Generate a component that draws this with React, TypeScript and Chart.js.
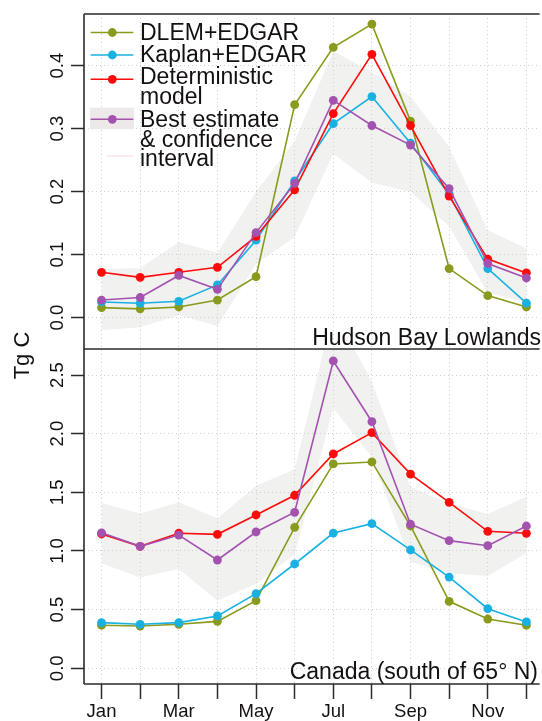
import React, { useEffect, useRef } from 'react';
import { Chart, registerables } from 'chart.js';

Chart.register(...registerables);

// ---------- data ----------
const months = ['Jan', 'Feb', 'Mar', 'Apr', 'May', 'Jun', 'Jul', 'Aug', 'Sep', 'Oct', 'Nov', 'Dec'];
const monthTickLabels = ['Jan', '', 'Mar', '', 'May', '', 'Jul', '', 'Sep', '', 'Nov', ''];

const hblTicks = [0, 0.1, 0.2, 0.3, 0.4];
const canTicks = [0, 0.5, 1.0, 1.5, 2.0, 2.5];

// Hudson Bay Lowlands (Tg C)
const hblDLEM = [0.016, 0.014, 0.017, 0.028, 0.065, 0.338, 0.429, 0.466, 0.312, 0.078, 0.035, 0.017];
const hblKaplan = [0.025, 0.023, 0.026, 0.052, 0.123, 0.217, 0.308, 0.351, 0.277, 0.196, 0.078, 0.023];
const hblDeterministic = [0.072, 0.064, 0.072, 0.080, 0.129, 0.203, 0.324, 0.418, 0.305, 0.193, 0.093, 0.071];
const hblBest = [0.028, 0.032, 0.067, 0.045, 0.135, 0.213, 0.345, 0.305, 0.274, 0.205, 0.086, 0.063];
const hblUpper = [0.077, 0.079, 0.120, 0.103, 0.200, 0.280, 0.423, 0.390, 0.351, 0.271, 0.139, 0.110];
const hblLower = [-0.020, -0.015, 0.004, -0.013, 0.085, 0.128, 0.260, 0.214, 0.200, 0.145, 0.039, 0.025];

// Canada south of 65 N (Tg C)
const canDLEM = [0.367, 0.360, 0.375, 0.400, 0.576, 1.202, 1.742, 1.759, 1.213, 0.571, 0.420, 0.367];
const canKaplan = [0.389, 0.375, 0.389, 0.446, 0.636, 0.889, 1.153, 1.233, 1.009, 0.778, 0.508, 0.395];
const canDeterministic = [1.145, 1.040, 1.151, 1.142, 1.307, 1.475, 1.827, 2.009, 1.656, 1.415, 1.168, 1.151];
const canBest = [1.155, 1.040, 1.136, 0.923, 1.162, 1.330, 2.620, 2.102, 1.228, 1.088, 1.045, 1.213];
const canUpper = [1.410, 1.320, 1.415, 1.280, 1.557, 1.696, 3.050, 2.443, 1.548, 1.407, 1.315, 1.463];
const canLower = [0.895, 0.773, 0.846, 0.576, 0.720, 0.970, 2.216, 1.800, 0.909, 0.810, 0.787, 0.980];

const legendLabels = [
  ['DLEM+EDGAR'],
  ['Kaplan+EDGAR'],
  ['Deterministic', 'model'],
  ['Best estimate', '& confidence', 'interval'],
];
const panelTitles = ['Hudson Bay Lowlands', 'Canada (south of 65° N)'];
const axisTitle = 'Tg C';

// ---------- styles ----------
const OLIVE = '#8A9A1C';
const CYAN = '#18B1E2';
const RED = '#FF0A0A';
const PURPLE = '#A452B0';
const BAND = '#F1F1F0';
const LEGEND_BAND = '#EDE9E9';
const GRID = '#CFCFCF';
const AXIS = '#2E2A2A';
const TEXT = '#141010';
const FONT = '"Liberation Sans", Arial, Helvetica, sans-serif';

const X_MIN = -0.454;
const X_MAX = 11.29;

const toPts = (arr: number[]) => arr.map((y, i) => ({ x: i, y }));

const panelPlugin = {
  id: 'panelPlugin',
  beforeDraw(chart: any) {
    const { ctx, chartArea, scales } = chart;
    const xs = scales.x;
    const bands = [
      { s: scales.yTop, up: hblUpper, lo: hblLower },
      { s: scales.yBot, up: canUpper, lo: canLower },
    ];
    for (const b of bands) {
      ctx.save();
      ctx.beginPath();
      ctx.rect(chartArea.left, b.s.top, chartArea.right - chartArea.left, b.s.bottom - b.s.top);
      ctx.clip();
      ctx.beginPath();
      b.up.forEach((v: number, i: number) => {
        const px = xs.getPixelForValue(i);
        const py = b.s.getPixelForValue(v);
        if (i === 0) ctx.moveTo(px, py);
        else ctx.lineTo(px, py);
      });
      for (let i = b.lo.length - 1; i >= 0; i--) {
        ctx.lineTo(xs.getPixelForValue(i), b.s.getPixelForValue(b.lo[i]));
      }
      ctx.closePath();
      ctx.fillStyle = BAND;
      ctx.fill();
      ctx.restore();
    }
  },
  afterDraw(chart: any) {
    const { ctx, chartArea, scales } = chart;
    const yTop = scales.yTop;
    const yBot = scales.yBot;

    // frame
    ctx.save();
    ctx.strokeStyle = AXIS;
    ctx.lineWidth = 1.6;
    ctx.beginPath();
    ctx.moveTo(chartArea.left, chartArea.top);
    ctx.lineTo(chartArea.right + 2, chartArea.top);
    ctx.moveTo(chartArea.left, yTop.bottom);
    ctx.lineTo(chartArea.right + 2, yTop.bottom);
    ctx.moveTo(chartArea.left, chartArea.bottom);
    ctx.lineTo(chartArea.right + 2, chartArea.bottom);
    ctx.moveTo(chartArea.left, chartArea.top);
    ctx.lineTo(chartArea.left, chartArea.bottom);
    ctx.stroke();
    ctx.restore();

    // y tick labels (rotated, R style)
    ctx.save();
    ctx.fillStyle = TEXT;
    ctx.font = `18.5px ${FONT}`;
    ctx.textAlign = 'center';
    ctx.textBaseline = 'alphabetic';
    for (const s of [yTop, yBot]) {
      s.ticks.forEach((t: any) => {
        const py = s.getPixelForValue(t.value);
        ctx.save();
        ctx.translate(chartArea.left - 21.5, py);
        ctx.rotate(-Math.PI / 2);
        ctx.fillText(Number(t.value).toFixed(1), 0, 0);
        ctx.restore();
      });
    }
    ctx.restore();

    // axis title
    ctx.save();
    ctx.fillStyle = TEXT;
    ctx.font = `22px ${FONT}`;
    ctx.textAlign = 'center';
    ctx.textBaseline = 'alphabetic';
    ctx.translate(28.5, yTop.bottom + 6.5);
    ctx.rotate(-Math.PI / 2);
    ctx.fillText(axisTitle, 0, 0);
    ctx.restore();

    // panel titles
    ctx.save();
    ctx.fillStyle = TEXT;
    ctx.font = `23px ${FONT}`;
    ctx.textAlign = 'right';
    ctx.textBaseline = 'alphabetic';
    ctx.fillText(panelTitles[0], 541, yTop.bottom - 4.5);
    ctx.fillText(panelTitles[1], 538, chartArea.bottom - 4.7);
    ctx.restore();

    // legend
    const colors = [OLIVE, CYAN, RED, PURPLE];
    const symY = [32.5, 55, 79.3, 119.3];
    const baselines = [[39.5], [61.7], [83.5, 104], [126.7, 146.7, 166]];
    const symX0 = 90.7;
    const symX1 = 133.3;
    const symXc = 112.3;
    ctx.save();
    // band key
    ctx.fillStyle = LEGEND_BAND;
    ctx.fillRect(90, 107.7, 44, 21.5);
    // faint line key
    ctx.strokeStyle = '#FBE3EC';
    ctx.lineWidth = 1.5;
    ctx.beginPath();
    ctx.moveTo(107, 156);
    ctx.lineTo(133, 156);
    ctx.stroke();
    legendLabels.forEach((lines, k) => {
      ctx.strokeStyle = colors[k];
      ctx.lineWidth = 1.6;
      ctx.beginPath();
      ctx.moveTo(symX0, symY[k]);
      ctx.lineTo(symX1, symY[k]);
      ctx.stroke();
      ctx.fillStyle = colors[k];
      ctx.beginPath();
      ctx.arc(symXc, symY[k], 4.4, 0, Math.PI * 2);
      ctx.fill();
      ctx.fillStyle = TEXT;
      ctx.font = `23px ${FONT}`;
      ctx.textAlign = 'left';
      ctx.textBaseline = 'alphabetic';
      lines.forEach((ln, j) => ctx.fillText(ln, 140, baselines[k][j]));
    });
    ctx.restore();
  },
};

export default function App() {
  const ref = useRef<HTMLCanvasElement>(null);

  useEffect(() => {
    document.body.style.margin = '0';
    document.body.style.overflow = 'hidden';
    const canvas = ref.current;
    if (!canvas) return;

    const mk = (label: string, color: string, data: number[], axis: string, order: number) => ({
      label,
      data: toPts(data),
      yAxisID: axis,
      borderColor: color,
      backgroundColor: color,
      pointBackgroundColor: color,
      pointBorderColor: color,
      pointBorderWidth: 0,
      pointRadius: 4.4,
      borderWidth: 1.6,
      tension: 0,
      fill: false,
      order,
    });

    const datasets = [
      mk('DLEM+EDGAR', OLIVE, hblDLEM, 'yTop', 4),
      mk('Kaplan+EDGAR', CYAN, hblKaplan, 'yTop', 3),
      mk('Deterministic model', RED, hblDeterministic, 'yTop', 2),
      mk('Best estimate', PURPLE, hblBest, 'yTop', 1),
      mk('DLEM+EDGAR', OLIVE, canDLEM, 'yBot', 4),
      mk('Kaplan+EDGAR', CYAN, canKaplan, 'yBot', 3),
      mk('Deterministic model', RED, canDeterministic, 'yBot', 2),
      mk('Best estimate', PURPLE, canBest, 'yBot', 1),
    ];

    const yCommon = {
      type: 'linear',
      position: 'left',
      stack: 'panels',
      stackWeight: 1,
      offset: false,
      ticks: { display: false },
      grid: {
        color: GRID,
        lineWidth: 1,
        drawTicks: true,
        tickLength: 13,
        tickColor: AXIS,
        tickWidth: 1.5,
        tickBorderDash: [],
      },
      border: { display: false, dash: [1, 3] },
      afterFit: (s: any) => {
        s.width = 84;
      },
    };

    const chart = new Chart(canvas, {
      type: 'line',
      data: { datasets: datasets as any },
      plugins: [panelPlugin],
      options: {
        animation: false,
        responsive: false,
        events: [],
        layout: { padding: { top: 14, left: 0, right: 0, bottom: 0 } },
        plugins: { legend: { display: false }, tooltip: { enabled: false } },
        scales: {
          x: {
            type: 'linear',
            min: X_MIN,
            max: X_MAX,
            afterBuildTicks: (s: any) => {
              s.ticks = months.map((_, i) => ({ value: i }));
            },
            afterFit: (s: any) => {
              s.height = 37;
            },
            ticks: {
              autoSkip: false,
              maxRotation: 0,
              minRotation: 0,
              padding: 2,
              color: TEXT,
              font: { family: FONT, size: 18.5 },
              callback: (_v: any, i: number) => monthTickLabels[i] ?? '',
            },
            grid: {
              color: GRID,
              lineWidth: 1,
              drawTicks: true,
              tickLength: 15,
              tickColor: AXIS,
              tickWidth: 1.5,
              tickBorderDash: [],
            },
            border: { display: false, dash: [1, 3] },
          },
          yTop: {
            ...yCommon,
            weight: 2,
            min: -0.0497,
            max: 0.482,
            afterBuildTicks: (s: any) => {
              s.ticks = hblTicks.map((v) => ({ value: v }));
            },
          },
          yBot: {
            ...yCommon,
            weight: 1,
            min: -0.134,
            max: 2.722,
            afterBuildTicks: (s: any) => {
              s.ticks = canTicks.map((v) => ({ value: v }));
            },
          },
        } as any,
      },
    });

    return () => chart.destroy();
  }, []);

  return (
    <div style={{ width: 542, height: 721, position: 'relative' }}>
      <style>{'body{margin:0;overflow:hidden;}'}</style>
      <canvas ref={ref} width={542} height={721} style={{ display: 'block' }} />
    </div>
  );
}
